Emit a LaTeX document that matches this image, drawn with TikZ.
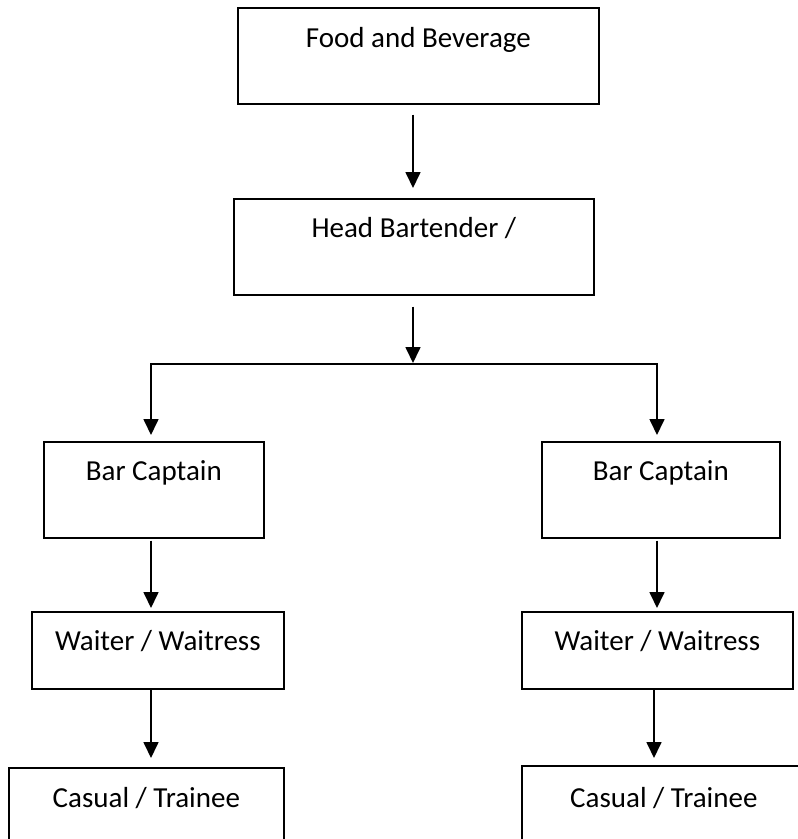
\documentclass[tikz,border=0pt]{standalone}
\usepackage{fontspec}
\setmainfont{Carlito}
\usetikzlibrary{arrows.meta}
\begin{document}
\begin{tikzpicture}[x=1pt,y=-1pt,
  box/.style={draw, line width=1.7pt, anchor=north west, inner xsep=0pt, inner ysep=0pt,
    font=\fontsize{29}{34}\selectfont, align=center},
  arr/.style={line width=1.7pt, -{Triangle[width=15pt,length=16pt]}},
  ln/.style={line width=1.7pt}]
\useasboundingbox (0,0) rectangle (798,839);
\node[box, minimum width=361pt, text height=40pt, text depth=56pt] (fb) at (237,7) {Food and Beverage};
\node[box, minimum width=360pt, text height=39pt, text depth=57pt] (hb) at (233,198) {Head Bartender /};
\node[box, minimum width=220pt, text height=39pt, text depth=57pt] (bcL) at (43,441) {Bar Captain};
\node[box, minimum width=238pt, text height=39pt, text depth=57pt] (bcR) at (541,441) {Bar Captain};
\node[box, minimum width=252pt, text height=39pt, text depth=38pt] (wL) at (31,611) {Waiter / Waitress};
\node[box, minimum width=271pt, text height=39pt, text depth=38pt] (wR) at (521,611) {Waiter / Waitress};
\node[box, minimum width=275pt, text height=40pt, text depth=60pt] (cL) at (8,767) {Casual / Trainee};
\node[box, minimum width=284pt, text height=42pt, text depth=60pt] (cR) at (521,765) {Casual / Trainee};
\coordinate (j) at (413,364);
\coordinate (jl) at (151,364);
\coordinate (jr) at (657,364);
\draw[arr, shorten <=10pt, shorten >=10pt] (fb.south -| j) -- (hb.north -| j);
\draw[arr, shorten <=11pt, shorten >=1pt] (hb.south -| j) -- (j);
\draw[ln, line cap=rect] (jl) -- (jr);
\draw[arr, shorten >=6pt] (jl) -- (bcL.north -| jl);
\draw[arr, shorten >=6pt] (jr) -- (bcR.north -| jr);
\draw[arr, shorten <=2pt, shorten >=3pt] (bcL.south -| jl) -- (wL.north -| jl);
\draw[arr, shorten <=2pt, shorten >=3pt] (bcR.south -| jr) -- (wR.north -| jr);
\draw[arr, shorten >=9pt] (wL.south -| jl) -- (cL.north -| jl);
\coordinate (jr2) at (654,364);
\draw[arr, shorten >=7pt] (wR.south -| jr2) -- (cR.north -| jr2);
\end{tikzpicture}
\end{document}
